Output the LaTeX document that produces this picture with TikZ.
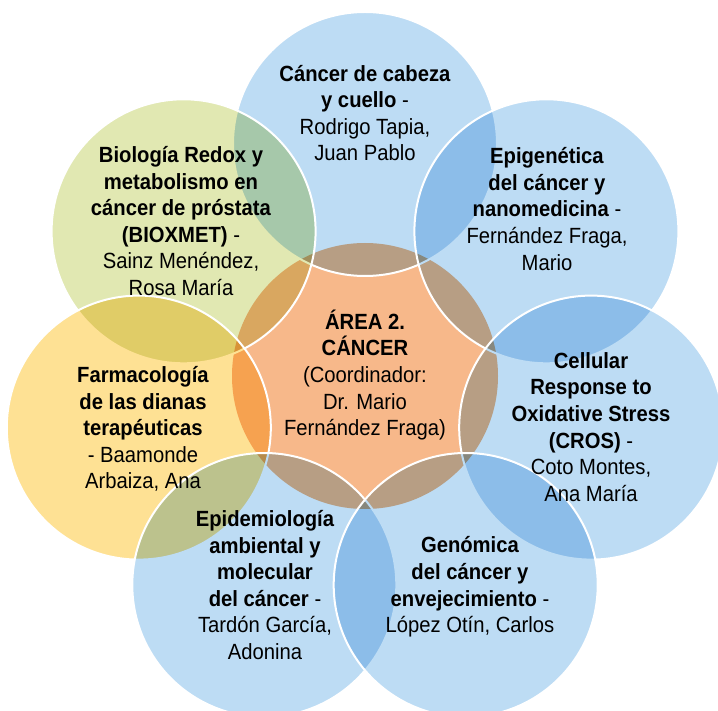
\documentclass[tikz,border=0pt]{standalone}
\usepackage{fontspec}
\setmainfont{Liberation Sans}[FakeStretch=0.92]
\definecolor{cblue}{RGB}{189,220,244}
\definecolor{corange}{RGB}{247,184,138}
\definecolor{cyellow}{RGB}{254,225,148}
\definecolor{cgreen}{RGB}{225,232,178}
\tikzset{
  circ/.style={line width=2pt, draw=white},
  lbl/.style={align=center, text=black, font=\fontsize{22}{26.6}\selectfont, inner sep=0pt},
}
\newcommand{\venncircle}[3]{%
  \begin{scope}[blend mode=multiply]
    \fill[#3] (#1) circle (#2);
  \end{scope}
  \draw[circ] (#1) circle (#2);
}
\begin{document}
\begin{tikzpicture}[x=1pt,y=-1pt]
\useasboundingbox (0,0) rectangle (718,711);
\coordinate (cc) at (365,376);
\coordinate (c0) at (365,144);
\coordinate (c1) at (546.4,231.3);
\coordinate (c2) at (591.2,427.6);
\coordinate (c3) at (465.7,585);
\coordinate (c4) at (264.3,585);
\coordinate (c5) at (138.8,427.6);
\coordinate (c6) at (183.6,231.3);
% center (no visible outline)
\begin{scope}[blend mode=multiply]
  \fill[corange] (cc) circle (133);
\end{scope}
\venncircle{c0}{132}{cblue}
\venncircle{c1}{132}{cblue}
\venncircle{c2}{132}{cblue}
\venncircle{c6}{132}{cgreen}
\venncircle{c5}{132}{cyellow}
\venncircle{c4}{132}{cblue}
\venncircle{c3}{132}{cblue}
% labels
\node[lbl] (tcc) at (365,375) {\textbf{ÁREA 2.}\\\textbf{CÁNCER}\\(Coordinador:\\Dr. Mario\\Fernández Fraga)};
\node[lbl] (t0) at (365,113) {\textbf{Cáncer de cabeza}\\\textbf{y cuello} -\\Rodrigo Tapia,\\Juan Pablo};
\node[lbl] (t1) at (547,209) {\textbf{Epigenética}\\\textbf{del cáncer y}\\\textbf{nanomedicina} -\\Fernández Fraga,\\Mario};
\node[lbl] (t2) at (591,427) {\textbf{Cellular}\\\textbf{Response to}\\\textbf{Oxidative Stress}\\\textbf{(CROS)} -\\Coto Montes,\\Ana María};
\node[lbl] (t3) at (470,587) {\textbf{Genómica}\\\textbf{del cáncer y}\\\textbf{envejecimiento} -\\López Otín, Carlos};
\node[lbl] (t4) at (265,585) {\textbf{Epidemiología}\\\textbf{ambiental y}\\\textbf{molecular}\\\textbf{del cáncer} -\\Tardón García,\\Adonina};
\node[lbl] (t5) at (143,429) {\textbf{Farmacología}\\\textbf{de las dianas}\\\textbf{terapéuticas}\\- Baamonde\\Arbaiza, Ana};
\node[lbl] (t6) at (181,221) {\textbf{Biología Redox y}\\\textbf{metabolismo en}\\\textbf{cáncer de próstata}\\\textbf{(BIOXMET)} -\\Sainz Menéndez,\\Rosa María};
\end{tikzpicture}
\end{document}
